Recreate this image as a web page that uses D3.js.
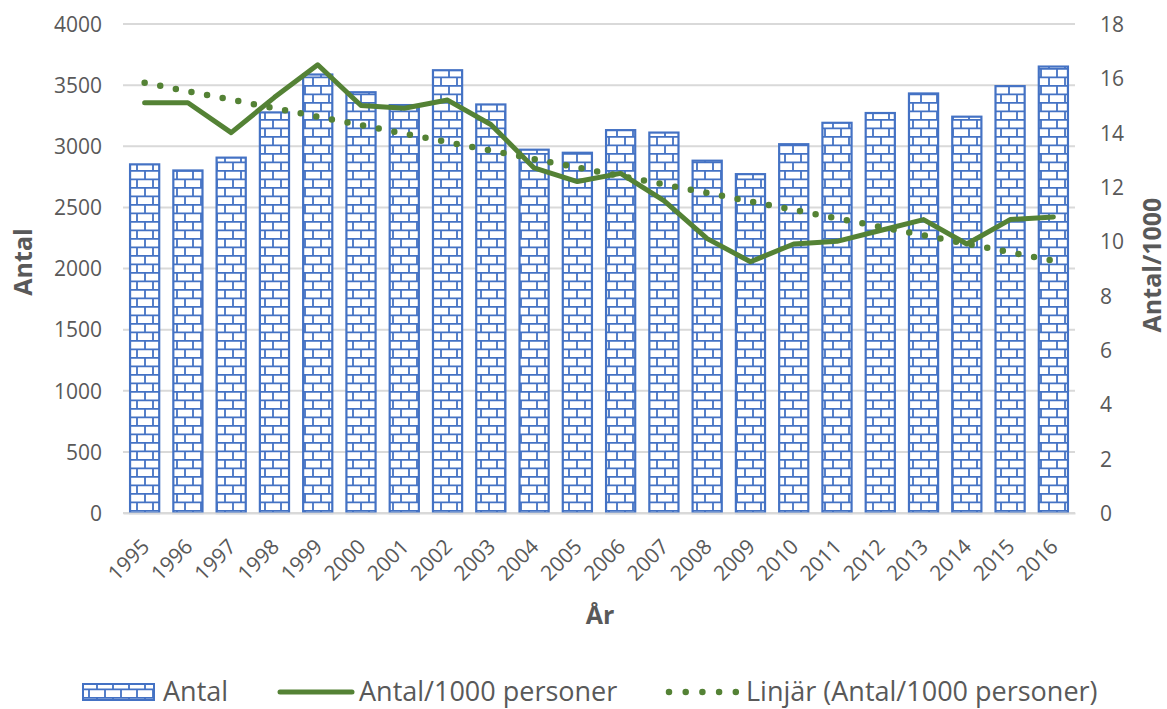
<!DOCTYPE html>
<html>
<head>
<meta charset="utf-8">
<script src="https://cdn.jsdelivr.net/npm/d3@7"></script>
<style>
  html, body { margin: 0; padding: 0; background: #fff; }
  svg { display: block; }
  text { font-family: "Open Sans", "Liberation Sans", sans-serif; fill: #595959; }
</style>
</head>
<body>
<script>
const years = ["1995","1996","1997","1998","1999","2000","2001","2002","2003","2004","2005","2006","2007","2008","2009","2010","2011","2012","2013","2014","2015","2016"];
const antal = [2860,2810,2915,3285,3595,3450,3345,3630,3350,2980,2955,3140,3120,2890,2780,3025,3200,3280,3440,3250,3500,3660];
const perThousand = [15.1,15.1,14.0,15.3,16.5,15.0,14.9,15.2,14.3,12.7,12.2,12.5,11.5,10.1,9.25,9.9,10.0,10.4,10.8,9.9,10.8,10.9];
const leftTicks = [0,500,1000,1500,2000,2500,3000,3500,4000];
const rightTicks = [0,2,4,6,8,10,12,14,16,18];
const legendLabels = ["Antal","Antal/1000 personer","Linjär (Antal/1000 personer)"];

const W = 1167, H = 709;
const blue = "#4472C4", green = "#548235", grid = "#d9d9d9";

const svg = d3.select("body").append("svg").attr("width", W).attr("height", H);

// brick pattern
const defs = svg.append("defs");
const pat = defs.append("pattern").attr("id","brick").attr("patternUnits","userSpaceOnUse")
  .attr("width",16).attr("height",17);
pat.append("rect").attr("width",16).attr("height",17).attr("fill","#fff");
pat.append("path").attr("d","M0,0.9H16M0,9.4H16M1,0.9V9.4M9,9.4V17.9")
  .attr("stroke",blue).attr("stroke-width",1.8).attr("fill","none");

const x = d3.scaleBand().domain(years).range([123,1075]).paddingInner(0.28).paddingOuter(0.14);
const yL = d3.scaleLinear().domain([0,4000]).range([513,24]);
const yR = d3.scaleLinear().domain([0,18]).range([513,24]);

// gridlines
svg.append("g").selectAll("line").data(leftTicks).join("line")
  .attr("x1",123).attr("x2",1075).attr("y1",d=>yL(d)).attr("y2",d=>yL(d))
  .attr("stroke",grid).attr("stroke-width",2);

// left axis labels
const axL = svg.append("g").attr("transform","translate(122,0)")
  .call(d3.axisLeft(yL).tickValues(leftTicks).tickSize(0).tickPadding(20).tickFormat(d3.format("d")));
axL.select(".domain").remove();
axL.selectAll("text").style("font-size","21px").attr("fill","#595959").attr("dy","0.35em");

// right axis labels
const axR = svg.append("g").attr("transform","translate(1075,0)")
  .call(d3.axisRight(yR).tickValues(rightTicks).tickSize(0).tickPadding(25).tickFormat(d3.format("d")));
axR.select(".domain").remove();
axR.selectAll("text").style("font-size","21px").attr("fill","#595959").attr("dy","0.35em");

// bars
svg.append("g").selectAll("rect").data(years).join("rect")
  .attr("x",(d)=>x(d)+1).attr("width",x.bandwidth()-2)
  .attr("y",(d,i)=>yL(antal[i])+1).attr("height",(d,i)=>yL(0)-yL(antal[i])-1)
  .attr("fill","url(#brick)").attr("stroke",blue).attr("stroke-width",2.2);

// bottom axis
const axB = svg.append("g").attr("transform","translate(0,513)")
  .call(d3.axisBottom(x).tickSize(0).tickPadding(0));
axB.select(".domain").attr("stroke",grid).attr("stroke-width",2);
axB.selectAll("text").style("font-size","21px").attr("fill","#595959")
  .attr("text-anchor","end").attr("dy",null).attr("y",null)
  .attr("transform","translate(6,35) rotate(-45)");

// line
const cx = d => x(d)+x.bandwidth()/2;
const line = d3.line().x((d,i)=>cx(years[i])).y(d=>yR(d));
svg.append("path").datum(perThousand).attr("d",line)
  .attr("fill","none").attr("stroke",green).attr("stroke-width",5)
  .attr("stroke-linejoin","round").attr("stroke-linecap","round");

// linear trendline (least squares of perThousand)
const n = perThousand.length;
const xm = d3.mean(d3.range(n)), ym = d3.mean(perThousand);
let sxy=0, sxx=0;
perThousand.forEach((v,i)=>{ sxy += (i-xm)*(v-ym); sxx += (i-xm)*(i-xm); });
const slope = sxy/sxx, icpt = ym - slope*xm;
const trend = [icpt, icpt + slope*(n-1)];
svg.append("line")
  .attr("x1",cx(years[0])).attr("y1",yR(trend[0]))
  .attr("x2",cx(years[n-1])).attr("y2",yR(trend[1]))
  .attr("stroke",green).attr("stroke-width",6.5).attr("stroke-linecap","round")
  .attr("stroke-dasharray","0 15.9");

// axis titles
svg.append("text").attr("transform","translate(32,262) rotate(-90)")
  .attr("text-anchor","middle").style("font-size","25px").style("font-weight","bold").text("Antal");
svg.append("text").attr("transform","translate(1161,265) rotate(-90)")
  .attr("text-anchor","middle").style("font-size","25px").style("font-weight","bold").text("Antal/1000");
svg.append("text").attr("x",600).attr("y",624)
  .attr("text-anchor","middle").style("font-size","25px").style("font-weight","bold").text("År");

// legend
const lg = svg.append("g");
lg.append("rect").attr("x",83).attr("y",684).attr("width",71).attr("height",16)
  .attr("fill","url(#brick)").attr("stroke",blue).attr("stroke-width",2);
lg.append("text").attr("x",163).attr("y",692).attr("dy","0.35em").style("font-size","27px").text(legendLabels[0]);
lg.append("line").attr("x1",280).attr("x2",352).attr("y1",692).attr("y2",692)
  .attr("stroke",green).attr("stroke-width",5).attr("stroke-linecap","round");
lg.append("text").attr("x",359).attr("y",692).attr("dy","0.35em").style("font-size","27px").text(legendLabels[1]);
lg.append("line").attr("x1",669).attr("x2",736).attr("y1",692).attr("y2",692)
  .attr("stroke",green).attr("stroke-width",6.5).attr("stroke-linecap","round")
  .attr("stroke-dasharray","0 16.7");
lg.append("text").attr("x",746).attr("y",692).attr("dy","0.35em").style("font-size","27px").text(legendLabels[2]);
</script>
</body>
</html>
